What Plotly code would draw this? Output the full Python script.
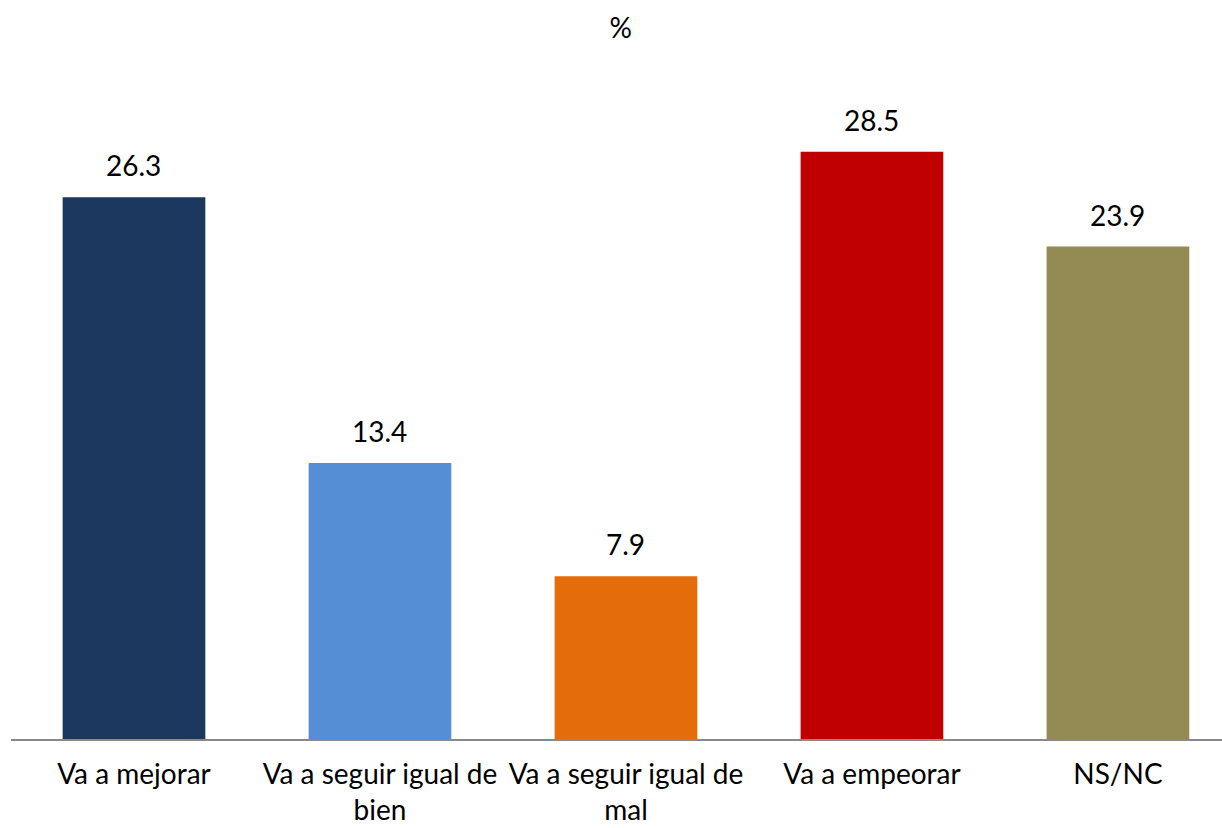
import plotly.graph_objects as go

categories = ["Va a mejorar", "Va a seguir igual de<br>bien", "Va a seguir igual de<br>mal", "Va a empeorar", "NS/NC"]
values = [26.3, 13.4, 7.9, 28.5, 23.9]
colors = ["#1B375D", "#558ED5", "#E46C0A", "#C00000", "#948A54"]

FONT = "Lato, 'Open Sans', sans-serif"
SIZE = 28

xs = list(range(len(categories)))

fig = go.Figure(go.Bar(
    x=xs,
    y=values,
    marker=dict(color=colors, line=dict(width=0)),
    width=0.58,
    hoverinfo="skip",
))

# value labels above each bar
for x, v in zip(xs, values):
    fig.add_annotation(
        x=x, y=v, text=f"{v:.1f}", showarrow=False,
        xanchor="center", yanchor="middle", yshift=32,
        font=dict(size=SIZE, color="#000000", family=FONT),
    )

fig.update_layout(
    width=1222, height=828,
    margin=dict(l=11, r=0, t=90, b=89, autoexpand=False),
    paper_bgcolor="white", plot_bgcolor="white",
    title=dict(text="%", x=0.508, xanchor="center", y=0.966, yanchor="middle",
               font=dict(size=SIZE, color="#000000", family=FONT)),
    showlegend=False,
    xaxis=dict(
        tickmode="array", tickvals=xs, ticktext=categories,
        range=[-0.5, 4.423],
        automargin=False,
        showline=True, linecolor="#898989", linewidth=2,
        ticks="", showgrid=False, zeroline=False,
        ticklabelstandoff=9,
        tickfont=dict(size=SIZE, color="#000000", family=FONT),
    ),
    yaxis=dict(range=[0, 31.5], visible=False, showgrid=False, zeroline=False),
    font=dict(family=FONT),
)

fig.write_html("out.html")
